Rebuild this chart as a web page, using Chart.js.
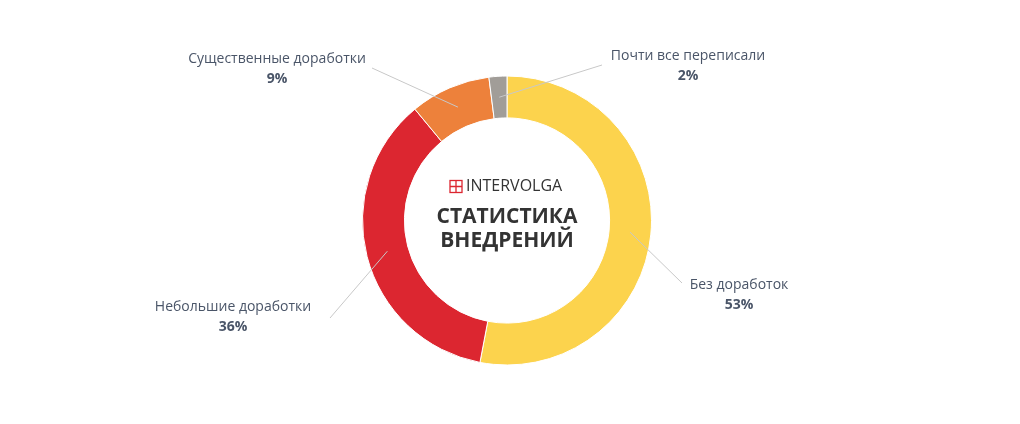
<!DOCTYPE html>
<html><head><meta charset="utf-8">
<script src="https://cdn.jsdelivr.net/npm/chart.js@4"></script>
<style>html,body{margin:0;background:#fff}#wrap{width:1020px;height:424px}</style>
</head><body><div id="wrap"><canvas id="c"></canvas></div>
<script>
const labels = ['Без доработок', 'Небольшие доработки', 'Существенные доработки', 'Почти все переписали'];
const values = [53, 36, 9, 2];
const colors = ['#fcd34d', '#dc2630', '#ed813b', '#a19d98'];
// label anchor (x,y of text center) and elbow point for each slice
const labelPos = [[739, 285, 682, 283], [233, 307, 330, 318], [277, 59, 372, 68], [688, 56, 602, 65]];

const labelPlugin = {
  id: 'labels',
  afterDraw(chart) {
    const ctx = chart.ctx;
    const meta = chart.getDatasetMeta(0);
    meta.data.forEach((arc, i) => {
      const p = arc.tooltipPosition();
      const [tx, ty, ex, ey] = labelPos[i];
      ctx.strokeStyle = '#c8c8c8';
      ctx.lineWidth = 1;
      ctx.beginPath();
      ctx.moveTo(p.x, p.y);
      ctx.lineTo(ex, ey);
      ctx.stroke();
      ctx.textAlign = 'center';
      ctx.textBaseline = 'middle';
      ctx.fillStyle = '#4a5568';
      ctx.font = '14px "Open Sans"';
      ctx.fillText(labels[i], tx, ty);
      ctx.font = 'bold 14px "Open Sans"';
      ctx.fillText(values[i] + '%', tx, ty + 20);
    });
    // centre title
    const cx = (chart.chartArea.left + chart.chartArea.right) / 2;
    const cy = (chart.chartArea.top + chart.chartArea.bottom) / 2;
    ctx.fillStyle = '#333';
    ctx.font = '16px "Open Sans"';
    ctx.textAlign = 'left';
    ctx.fillText('INTERVOLGA', cx - 41, cy - 34);
    // logo mark
    ctx.strokeStyle = '#dc2630';
    ctx.lineWidth = 1.3;
    const lx = cx - 57, ly = cy - 40;
    ctx.strokeRect(lx, ly, 12, 12);
    ctx.beginPath();
    ctx.moveTo(lx + 6, ly); ctx.lineTo(lx + 6, ly + 12);
    ctx.moveTo(lx, ly + 6); ctx.lineTo(lx + 12, ly + 6);
    ctx.stroke();
    ctx.textAlign = 'center';
    ctx.font = 'bold 21px "Open Sans"';
    ctx.fillText('СТАТИСТИКА', cx, cy - 3);
    ctx.fillText('ВНЕДРЕНИЙ', cx, cy + 21);
  }
};

new Chart(document.getElementById('c'), {
  type: 'doughnut',
  data: {
    labels: labels,
    datasets: [{ data: values, backgroundColor: colors, borderColor: '#fff', borderWidth: 1 }]
  },
  options: {
    responsive: true,
    maintainAspectRatio: false,
    animation: false,
    cutout: '71%',
    layout: { padding: { top: 75, bottom: 58, left: 362, right: 368 } },
    plugins: { legend: { display: false }, tooltip: { enabled: false } }
  },
  plugins: [labelPlugin]
});
</script></body></html>
